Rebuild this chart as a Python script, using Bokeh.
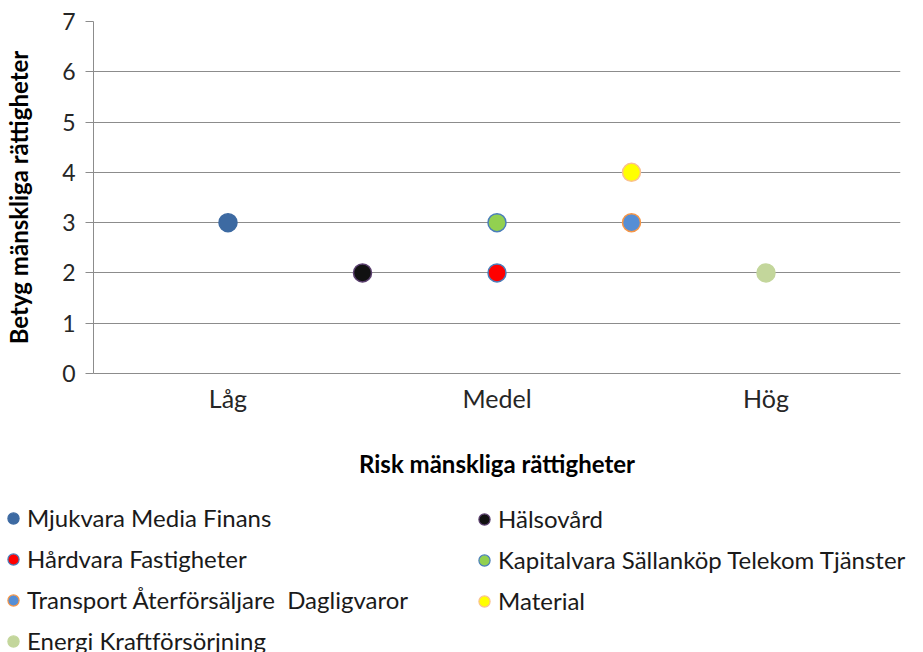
from bokeh.plotting import figure
from bokeh.models import FixedTicker, Legend, LegendItem
from bokeh.embed import file_html
from bokeh.resources import INLINE

# ---- data ----
risk_levels = ["Låg", "Medel", "Hög"]
risk_ticks = [1, 2, 3]
y_ticks = [0, 1, 2, 3, 4, 5, 6, 7]

series_names = [
    "Mjukvara Media Finans",
    "Hälsovård",
    "Hårdvara Fastigheter",
    "Kapitalvara Sällanköp Telekom Tjänster",
    "Transport Återförsäljare  Dagligvaror",
    "Material",
    "Energi Kraftförsörjning",
]
series_x = [1.0, 1.5, 2.0, 2.0, 2.5, 2.5, 3.0]
series_y = [3, 2, 2, 3, 3, 4, 2]
fill_colors = ["#3D6AA2", "#111111", "#FF0000", "#92D050", "#558ED5", "#FFFF00", "#C3D69B"]
line_colors = ["#3D6AA2", "#5A3F6E", "#4A7EBB", "#4A7EBB", "#F79646", "#FAC090", "#C3D69B"]

FONT = "Lato"
W = 923
H_MAIN = 490
H_LEG = 162

p = figure(width=W, height=H_MAIN, output_backend="svg", toolbar_location=None,
           x_range=(0.5, 3.5), y_range=(0, 7),
           min_border_left=93, min_border_right=23, min_border_top=21,
           min_border_bottom=H_MAIN - 373)
p.outline_line_color = None
p.background_fill_color = "white"
p.border_fill_color = "white"

# grid
p.xgrid.grid_line_color = None
p.ygrid.ticker = FixedTicker(ticks=y_ticks)
p.ygrid.grid_line_color = "#8C8C8C"
p.ygrid.grid_line_width = 1

# y axis
ya = p.yaxis[0]
ya.ticker = FixedTicker(ticks=y_ticks)
ya.axis_line_color = "#8C8C8C"
ya.major_tick_line_color = "#8C8C8C"
ya.major_tick_out = 8
ya.major_tick_in = 0
ya.minor_tick_line_color = None
ya.major_label_standoff = 10
ya.major_label_text_font = FONT
ya.major_label_text_font_size = "23px"
ya.major_label_text_color = "#262626"
ya.axis_label = "Betyg mänskliga rättigheter"
ya.axis_label_text_font = FONT
ya.axis_label_text_font_style = "bold"
ya.axis_label_text_font_size = "24px"
ya.axis_label_text_color = "#000000"
ya.axis_label_standoff = 26

# x axis
xa = p.xaxis[0]
xa.ticker = FixedTicker(ticks=risk_ticks)
xa.major_label_overrides = {t: lab for t, lab in zip(risk_ticks, risk_levels)}
xa.axis_line_color = "#8C8C8C"
xa.major_tick_out = 0
xa.major_tick_in = 0
xa.minor_tick_line_color = None
xa.major_label_standoff = 9
xa.major_label_text_font = FONT
xa.major_label_text_font_size = "25px"
xa.major_label_text_color = "#262626"
xa.axis_label = "Risk mänskliga rättigheter"
xa.axis_label_text_font = FONT
xa.axis_label_text_font_style = "bold"
xa.axis_label_text_font_size = "24px"
xa.axis_label_text_color = "#000000"
xa.axis_label_standoff = 33

for x, y, fc, lc in zip(series_x, series_y, fill_colors, line_colors):
    p.scatter([x], [y], size=18, fill_color=fc, line_color=lc, line_width=1.5)

# ---- legend figure (separate root, so its frame is not aligned to p) ----
q = figure(width=W, height=H_LEG, output_backend="svg", toolbar_location=None,
           x_range=(0, 1), y_range=(0, 1),
           min_border_left=0, min_border_right=0, min_border_top=0, min_border_bottom=0,
           x_axis_location=None, y_axis_location=None)
q.outline_line_color = None
q.grid.visible = False
q.background_fill_color = "white"
q.border_fill_color = "white"

leg_renderers = []
for name, fc, lc in zip(series_names, fill_colors, line_colors):
    r = q.scatter([float("nan")], [float("nan")], fill_color=fc,
                  line_color=lc, line_width=1.2)
    leg_renderers.append((name, r))

ROW_H = 28
GAP = 12
TOP = 17

def make_legend(items, vx):
    n = len(items)
    height = n * ROW_H + (n - 1) * GAP
    vy = H_LEG - TOP - height
    return Legend(items=[LegendItem(label=nm, renderers=[r]) for nm, r in items],
                  location=(vx, vy), orientation="vertical",
                  glyph_width=ROW_H, glyph_height=ROW_H, label_height=ROW_H,
                  label_standoff=0, spacing=GAP, padding=0, margin=0,
                  border_line_color=None, background_fill_alpha=0,
                  label_text_font=FONT, label_text_font_size="24px",
                  label_text_color="#1a1a1a")

col1 = [leg_renderers[i] for i in (0, 2, 4, 6)]
col2 = [leg_renderers[i] for i in (1, 3, 5)]
q.add_layout(make_legend(col1, -1), "center")
q.add_layout(make_legend(col2, 470), "center")

open("out.html", "w").write(file_html([p, q], INLINE))
